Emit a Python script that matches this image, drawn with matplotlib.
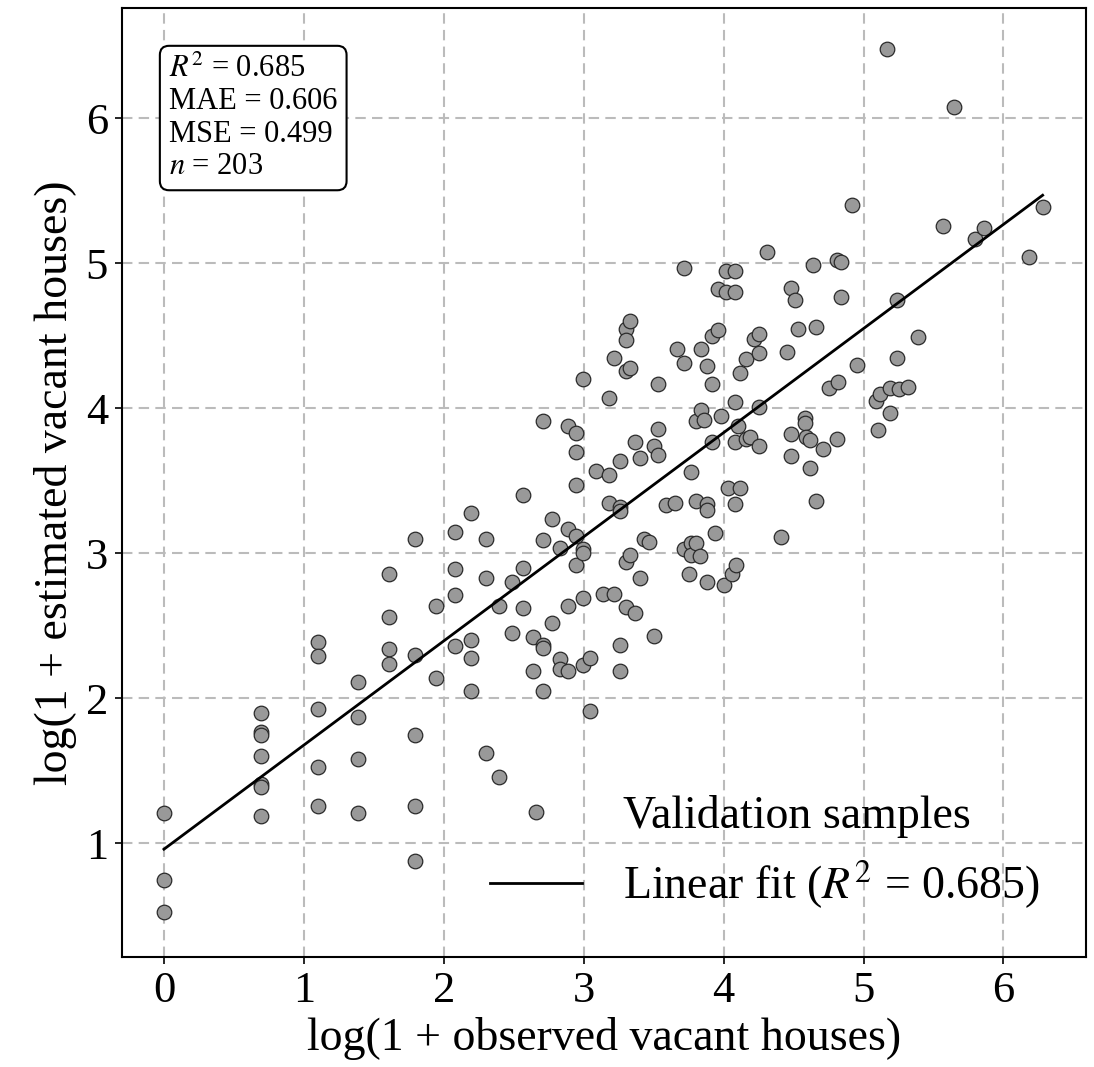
import numpy as np
import matplotlib
matplotlib.use("Agg")
import matplotlib.pyplot as plt
from matplotlib.lines import Line2D

plt.rcParams['font.family'] = ['Liberation Serif', 'DejaVu Serif']
plt.rcParams['mathtext.fontset'] = 'stix'

# observed (x) -> list of estimated (y)
columns = [
    (0.000, [1.21, 0.75, 0.53]),
    (0.693, [1.90, 1.77, 1.75, 1.60, 1.41, 1.39, 1.19]),
    (1.099, [2.39, 2.29, 1.93, 1.53, 1.26]),
    (1.386, [2.11, 1.87, 1.58, 1.21]),
    (1.609, [2.86, 2.56, 2.34, 2.24]),
    (1.792, [3.10, 2.30, 1.75, 1.26, 0.88]),
    (1.946, [2.64, 2.14]),
    (2.079, [3.15, 2.89, 2.71, 2.36]),
    (2.197, [3.28, 2.40, 2.28, 2.05]),
    (2.303, [3.10, 2.83, 1.62]),
    (2.398, [2.64, 1.46]),
    (2.485, [2.80, 2.45]),
    (2.565, [3.40, 2.90, 2.62]),
    (2.639, [2.42, 2.19]),
    (2.708, [3.91, 3.09, 2.37, 2.35, 2.05]),
    (2.773, [3.24, 2.52]),
    (2.833, [3.04, 2.27, 2.20]),
    (2.890, [3.88, 3.17, 2.64, 2.19]),
    (2.944, [3.83, 3.70, 3.47, 3.12, 2.92]),
    (2.996, [4.20, 3.03, 3.00, 2.69, 2.23]),
    (3.045, [2.28, 1.91]),
    (3.090, [3.57]),
    (3.140, [2.72]),
    (3.180, [4.07, 3.54, 3.35]),
    (3.220, [4.35, 2.72]),
    (3.260, [3.64, 3.32, 3.29, 2.37, 2.19]),
    (3.300, [4.55, 4.47, 4.26, 2.94, 2.63]),
    (3.330, [4.60, 4.28, 2.99]),
    (3.370, [3.77, 2.59]),
    (3.400, [3.66, 2.83]),
    (3.430, [3.10]),
    (3.470, [3.08]),
    (3.500, [3.74, 2.43]),
    (3.530, [4.17, 3.86, 3.68]),
    (3.590, [3.33]),
    (3.650, [3.35]),
    (3.670, [4.41]),
    (3.720, [4.97, 4.31, 3.03]),
    (3.750, [2.86]),
    (3.770, [3.56, 3.07, 2.99]),
    (3.800, [3.91, 3.36, 3.07]),
    (3.830, [2.98]),
    (3.840, [4.41, 3.99]),
    (3.860, [3.92]),
    (3.880, [4.29, 3.34, 3.30, 2.80]),
    (3.920, [4.50, 4.17, 3.77]),
    (3.940, [3.14]),
    (3.960, [4.82, 4.54]),
    (3.980, [3.95]),
    (4.000, [2.78]),
    (4.020, [4.80, 4.95]),
    (4.030, [3.45]),
    (4.060, [2.86]),
    (4.080, [4.95, 4.80, 4.04, 3.77, 3.34]),
    (4.090, [2.92]),
    (4.100, [3.88]),
    (4.120, [4.24, 3.45]),
    (4.160, [4.34, 3.79]),
    (4.190, [3.80]),
    (4.220, [4.48]),
    (4.250, [4.51, 4.38, 4.01, 3.74]),
    (4.310, [5.08]),
    (4.410, [3.11]),
    (4.450, [4.39]),
    (4.480, [4.83, 3.82, 3.67]),
    (4.510, [4.75]),
    (4.530, [4.55]),
    (4.580, [3.93, 3.90]),
    (4.590, [3.80]),
    (4.620, [3.78, 3.59]),
    (4.640, [4.99]),
    (4.660, [4.56, 3.36]),
    (4.710, [3.72]),
    (4.750, [4.14]),
    (4.810, [5.02, 3.79]),
    (4.820, [4.18]),
    (4.840, [5.01, 4.77]),
    (4.920, [5.40]),
    (4.950, [4.30]),
    (5.090, [4.05]),
    (5.100, [3.85]),
    (5.120, [4.10]),
    (5.170, [6.48]),
    (5.190, [4.14, 3.97]),
    (5.240, [4.75, 4.35]),
    (5.250, [4.13]),
    (5.320, [4.15]),
    (5.390, [4.49]),
    (5.570, [5.26]),
    (5.650, [6.08]),
    (5.800, [5.17]),
    (5.860, [5.24]),
    (6.180, [5.04]),
    (6.280, [5.39]),
]
obs = np.array([x for x, ys in columns for _ in ys])
est = np.array([y for x, ys in columns for y in ys])

fit_slope = 0.718
fit_intercept = 0.96
stats_lines = [r"$R^2$ = 0.685", "MAE = 0.606", "MSE = 0.499", r"$n$ = 203"]
ticks = [0, 1, 2, 3, 4, 5, 6]

fig = plt.figure(figsize=(10.94, 10.67), dpi=100)
ax = fig.add_axes([0.1115, 0.103, 0.8812, 0.8895])

ax.grid(True, linestyle=(0, (5, 3)), color='#bbbbbb', linewidth=1.5, zorder=0)
ax.scatter(obs, est, s=110, facecolor='#999999', edgecolor='#2a2a2a',
           linewidth=0.9, zorder=3)
xl = np.array([obs.min(), obs.max()])
ax.plot(xl, fit_intercept + fit_slope * xl, color='black', lw=2, zorder=4)

ax.set_xlim(-0.30, 6.59)
ax.set_ylim(0.216, 6.76)
ax.set_xticks(ticks)
ax.set_yticks(ticks[1:])
ax.tick_params(labelsize=32, length=5, width=1.2, pad=5)
for sp in ax.spines.values():
    sp.set_linewidth(1.5)
ax.set_xlabel("log(1 + observed vacant houses)", fontsize=33, labelpad=4)
ax.set_ylabel("log(1 + estimated vacant houses)", fontsize=33, labelpad=6)

ax.text(0.0488, 0.9505, "\n".join(stats_lines), transform=ax.transAxes,
        fontsize=22, va='top', ha='left', linespacing=1.15,
        bbox=dict(boxstyle='round,pad=0.3', facecolor='white',
                  edgecolor='black', linewidth=1.5), zorder=6)

handles = [Line2D([], [], linestyle='none', marker='o', markersize=10.5,
                  markerfacecolor='#999999', markeredgecolor='#2a2a2a',
                  markeredgewidth=0.9),
           Line2D([], [], color='black', lw=2)]
labels = ["Validation samples", r"Linear fit ($R^2$ = 0.685)"]
ax.legend(handles, labels, loc='lower right', fontsize=33, frameon=False,
          handlelength=2.0, handletextpad=0.9, borderaxespad=0.6,
          labelspacing=0.45)

fig.savefig("out.png", dpi=100)
